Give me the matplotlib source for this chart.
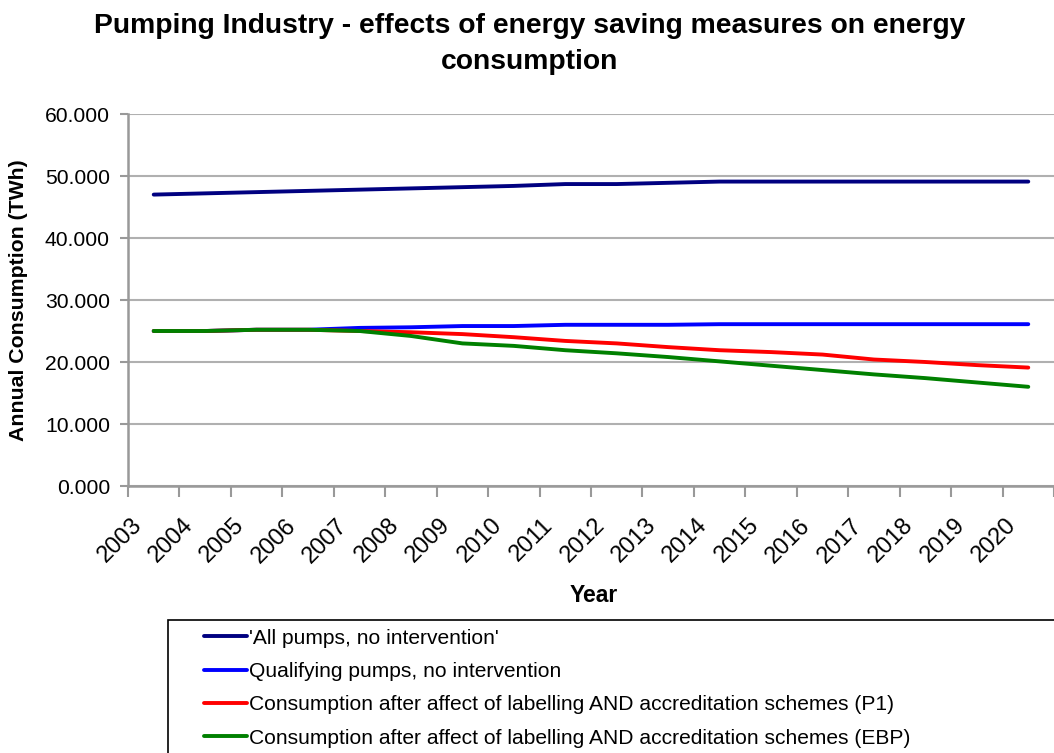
"""Pumping industry energy consumption chart."""
import matplotlib
matplotlib.use("Agg")
import matplotlib.pyplot as plt
from matplotlib.patches import Rectangle
import numpy as np

plt.rcParams["font.family"] = ["Liberation Sans", "DejaVu Sans"]

years = [str(y) for y in range(2003, 2021)]

all_pumps = [47.0, 47.2, 47.4, 47.6, 47.8, 48.0, 48.2, 48.4, 48.7,
             48.7, 48.9, 49.1, 49.1, 49.1, 49.1, 49.1, 49.1, 49.1]
qualifying = [25.0, 25.0, 25.2, 25.2, 25.5, 25.6, 25.8, 25.8, 26.0,
              26.0, 26.0, 26.1, 26.1, 26.1, 26.1, 26.1, 26.1, 26.1]
after_p1 = [25.0, 25.0, 25.2, 25.2, 25.0, 24.8, 24.5, 24.0, 23.4,
            23.0, 22.4, 21.9, 21.6, 21.2, 20.4, 20.0, 19.5, 19.1]
after_ebp = [25.0, 25.0, 25.2, 25.2, 25.0, 24.2, 23.0, 22.6, 21.9,
             21.4, 20.8, 20.1, 19.4, 18.7, 18.0, 17.4, 16.7, 16.0]

series = [
    (all_pumps, "#000080", "'All pumps, no intervention'"),
    (qualifying, "#0000ff", "Qualifying pumps, no intervention"),
    (after_p1, "#ff0000", "Consumption after affect of labelling AND accreditation schemes (P1)"),
    (after_ebp, "#008000", "Consumption after affect of labelling AND accreditation schemes (EBP)"),
]

W, H = 1054, 753
fig = plt.figure(figsize=(W / 100, H / 100), dpi=100)
x0, x1, ytop, ybot = 128, 1054, 114, 486
ax = fig.add_axes([x0 / W, 1 - ybot / H, (x1 - x0) / W, (ybot - ytop) / H])

x = np.arange(len(years))
for vals, color, label in series:
    ax.plot(x, vals, color=color, lw=2.8, label=label, solid_capstyle="round")

spacing = 51.8
ax.set_xlim(-0.5, -0.5 + (x1 - x0) / spacing)
ax.set_ylim(0, 60)
ax.set_yticks(np.arange(0, 61, 10))
ax.set_yticklabels([f"{v:.3f}" for v in range(0, 61, 10)], fontsize=15.2)
ax.set_xticks(np.arange(-0.5, len(years), 1))
ax.set_xticklabels([])
# labels sit a little left of each category centre, as in Excel
ax.set_xticks(x - 0.3, minor=True)
ax.set_xticklabels(years, minor=True, rotation=45, ha="right", va="center",
                   rotation_mode="anchor", fontsize=17)
ax.tick_params(axis="x", which="minor", length=0, pad=26)
ax.tick_params(axis="x", which="major", length=8, width=1.5, color="#999999")
ax.tick_params(axis="y", length=6, width=1.5, color="#999999", pad=7)

ax.grid(axis="y", color="#b0b0b0", lw=1.5)
ax.set_axisbelow(True)
for side in ["top", "right"]:
    ax.spines[side].set_visible(False)
for side in ["left", "bottom"]:
    ax.spines[side].set_color("#999999")
    ax.spines[side].set_linewidth(1.8)

fig.text(19 / W, 1 - 300 / H, "Annual Consumption (TWh)", fontsize=15.3,
         fontweight="bold", rotation=90, ha="center", va="center")
fig.text(594 / W, 1 - 595 / H, "Year", fontsize=16.5, fontweight="bold",
         ha="center", va="center")
fig.text(530 / W, 1 - 44 / H,
         "Pumping Industry - effects of energy saving measures on energy\nconsumption",
         fontsize=20.3, fontweight="bold", ha="center", va="center", linespacing=1.5)

# legend box, runs past the right and bottom edges as in the original
fig.patches.append(Rectangle((168 / W, -0.05), 1.0, 0.05 + 1 - 620 / H,
                             transform=fig.transFigure, fill=False,
                             edgecolor="black", lw=1.2))
fig.legend(loc="upper left", bbox_to_anchor=(187 / W, 1 - 612 / H),
           frameon=False, fontsize=15.1, handlelength=2.05, handletextpad=0.1,
           labelspacing=0.68, borderpad=0.3)

fig.savefig("out.png", dpi=100)
